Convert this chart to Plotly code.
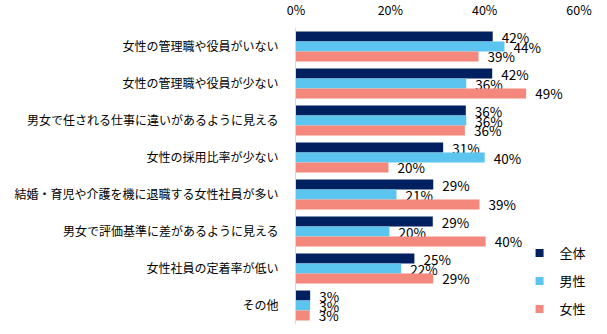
import plotly.graph_objects as go

categories = [
    "女性の管理職や役員がいない",
    "女性の管理職や役員が少ない",
    "男女で任される仕事に違いがあるように見える",
    "女性の採用比率が少ない",
    "結婚・育児や介護を機に退職する女性社員が多い",
    "男女で評価基準に差があるように見える",
    "女性社員の定着率が低い",
    "その他",
]
series_names = ["全体", "男性", "女性"]
zentai = [41.7, 41.6, 36.0, 31.2, 29.1, 29.0, 25.1, 3.0]
dansei = [44.2, 36.1, 36.1, 40.0, 21.3, 19.8, 22.3, 3.0]
josei = [38.7, 48.8, 35.8, 19.6, 38.9, 40.2, 29.1, 2.9]
colors = ["#002060", "#5BC5F0", "#F4887C"]
x_ticks = [0, 20, 40, 60]

FONT = "Noto Sans CJK JP, Noto Sans, sans-serif"

fig = go.Figure()
for name, vals, col in zip(series_names, [zentai, dansei, josei], colors):
    fig.add_trace(go.Bar(
        y=categories, x=vals, name=name, orientation="h",
        marker=dict(color=col, line=dict(width=0)),
        text=vals, texttemplate="  %{x:.0f}%", textposition="outside",
        textfont=dict(size=13.5, color="#000000", family=FONT),
        constraintext="none", cliponaxis=False, legendgroup=name,
        showlegend=False,
    ))
# legend-only entries with small square swatches
for name, col in zip(series_names, colors):
    fig.add_trace(go.Scatter(
        x=[None], y=[None], mode="markers", name=name, legendgroup=name,
        marker=dict(symbol="square", size=8, color=col),
    ))

fig.update_layout(
    width=607, height=334,
    margin=dict(l=296, r=28, t=27.5, b=9.5, autoexpand=False),
    paper_bgcolor="white", plot_bgcolor="white",
    barmode="group", bargap=0.19, bargroupgap=0,
    font=dict(family=FONT, size=12, color="#000000"),
    showlegend=True,
    legend=dict(x=0.79, y=0.29, xanchor="left", yanchor="top",
                traceorder="grouped", tracegroupgap=8,
                font=dict(size=13, family=FONT), bgcolor="rgba(0,0,0,0)"),
    xaxis=dict(range=[0, 60], side="top", tickvals=x_ticks,
               ticktext=[f"{v}%" for v in x_ticks], showgrid=False,
               zeroline=False, showline=False, automargin=False,
               ticks="outside", ticklen=7, tickcolor="rgba(255,255,255,0)",
               tickfont=dict(size=12.5, family=FONT)),
    yaxis=dict(autorange="reversed", showgrid=False, zeroline=False,
               showline=True, linecolor="#D9D9D9", linewidth=1, ticks="",
               ticklabelstandoff=14, automargin=False,
               tickfont=dict(size=12, family=FONT)),
)
fig.write_html("out.html")
